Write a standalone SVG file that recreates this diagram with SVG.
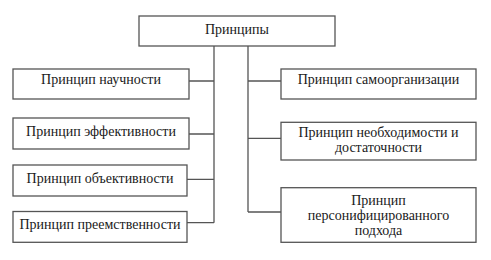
<svg xmlns="http://www.w3.org/2000/svg" width="491" height="260" viewBox="0 0 491 260">
<style>
.box{fill:#fff;stroke:#555;stroke-width:1.3}
.ln{fill:none;stroke:#555;stroke-width:1.3}
text{font-family:"Liberation Serif","Times New Roman",serif;font-size:14px;fill:#1a1a1a;text-anchor:middle}
</style>
<rect width="491" height="260" fill="#fff"/>
<g id="connectors">
<path class="ln" d="M214 46V222.7M189 81H214M189 134H214M187 179.3H214M187 222.7H214"/>
<path class="ln" d="M248 46V212M248 81H281M248 138.3H281M248 212H281"/>
</g>
<g id="n0"><rect class="box" x="139" y="16" width="196" height="30"/><text x="237" y="34">Принципы</text></g>
<g id="l1"><rect class="box" x="13" y="69" width="176" height="30"/><text x="101" y="84">Принцип научности</text></g>
<g id="l2"><rect class="box" x="13" y="118" width="176" height="31"/><text x="101" y="136">Принцип эффективности</text></g>
<g id="l3"><rect class="box" x="13" y="165" width="174" height="31"/><text x="100" y="182.5">Принцип объективности</text></g>
<g id="l4"><rect class="box" x="13" y="211.5" width="174" height="30.8"/><text x="100" y="228.5">Принцип преемственности</text></g>
<g id="r1"><rect class="box" x="281" y="69" width="195" height="30"/><text x="378.5" y="84">Принцип самоорганизации</text></g>
<g id="r2"><rect class="box" x="281" y="122.3" width="195" height="37.7"/><text x="378.5" y="136.5">Принцип необходимости и</text><text x="378.5" y="151.5">достаточности</text></g>
<g id="r3"><rect class="box" x="281" y="187.7" width="195" height="54.6"/><text x="378.5" y="205">Принцип</text><text x="378.5" y="220">персонифицированного</text><text x="378.5" y="235">подхода</text></g>
</svg>
